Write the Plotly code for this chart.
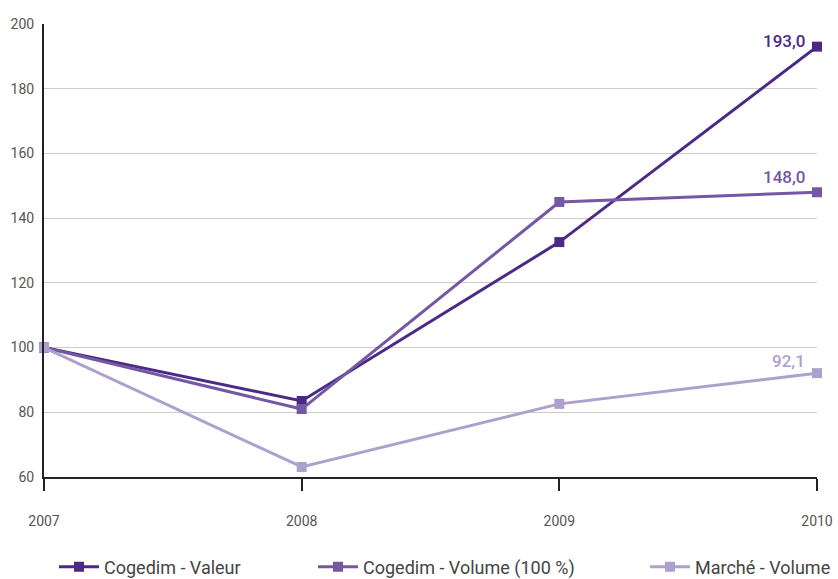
import plotly.graph_objects as go

years = [2007, 2008, 2009, 2010]
valeur = [100, 83.5, 132.6, 193.0]
volume = [100, 81.0, 145.0, 148.0]
marche = [100, 63.1, 82.6, 92.1]
names = ["Cogedim - Valeur", "Cogedim - Volume (100 %)", "Marché - Volume"]
label_text = ["193,0", "148,0", "92,1"]

colors = ["#4b2a85", "#7458a3", "#ada0cc"]
series = [valeur, volume, marche]
label_yshift = [6, 15, 12]

FONT = "Roboto, DejaVu Sans, sans-serif"

fig = go.Figure()
legend_ids = ["legend", "legend2", "legend3"]
for i, (nm, col, vals) in enumerate(zip(names, colors, series)):
    fig.add_trace(go.Scatter(
        x=years, y=vals, name=nm, mode="lines+markers",
        line=dict(color=col, width=3),
        marker=dict(symbol="square", size=10, color=col),
        legend=legend_ids[i], cliponaxis=False,
    ))
    fig.add_annotation(
        x=years[-1], y=vals[-1], text=label_text[i], showarrow=False,
        xanchor="right", yanchor="middle", xshift=-10, yshift=label_yshift[i],
        font=dict(family=FONT, size=17, color=col, weight=500),
    )

leg_common = dict(orientation="h", yanchor="middle", xanchor="left",
                  font=dict(family=FONT, size=18, color="#444444"),
                  bgcolor="rgba(0,0,0,0)", itemwidth=40)
leg_x = [54, 313, 645]
layout_legends = {}
for lid, lx in zip(legend_ids, leg_x):
    layout_legends[lid] = dict(leg_common, x=(lx - 44) / (838 - 44 - 21), y=-(567 - 477) / (477 - 24))

fig.update_layout(
    width=838, height=579,
    margin=dict(l=44, r=21, t=24, b=102, autoexpand=False),
    plot_bgcolor="white", paper_bgcolor="white",
    showlegend=True,
    **layout_legends,
    xaxis=dict(
        range=[2007, 2010], tickvals=years, ticktext=[str(y) for y in years],
        showgrid=False, showline=True, linecolor="#222222", linewidth=2,
        ticks="outside", ticklen=12, tickwidth=2, tickcolor="#222222",
        tickfont=dict(family=FONT, size=14, color="#555555"),
        ticklabelstandoff=18, zeroline=False, automargin=False,
    ),
    yaxis=dict(
        range=[60, 200], dtick=20, showgrid=True, gridcolor="#cccccc", gridwidth=1,
        showline=True, linecolor="#222222", linewidth=2,
        tickfont=dict(family=FONT, size=14, color="#555555"),
        ticklabelstandoff=5, zeroline=False, automargin=False,
    ),
)

fig.write_html("out.html", config={"displayModeBar": False},
               post_script="document.body.style.margin='0';document.body.style.overflow='hidden';")
